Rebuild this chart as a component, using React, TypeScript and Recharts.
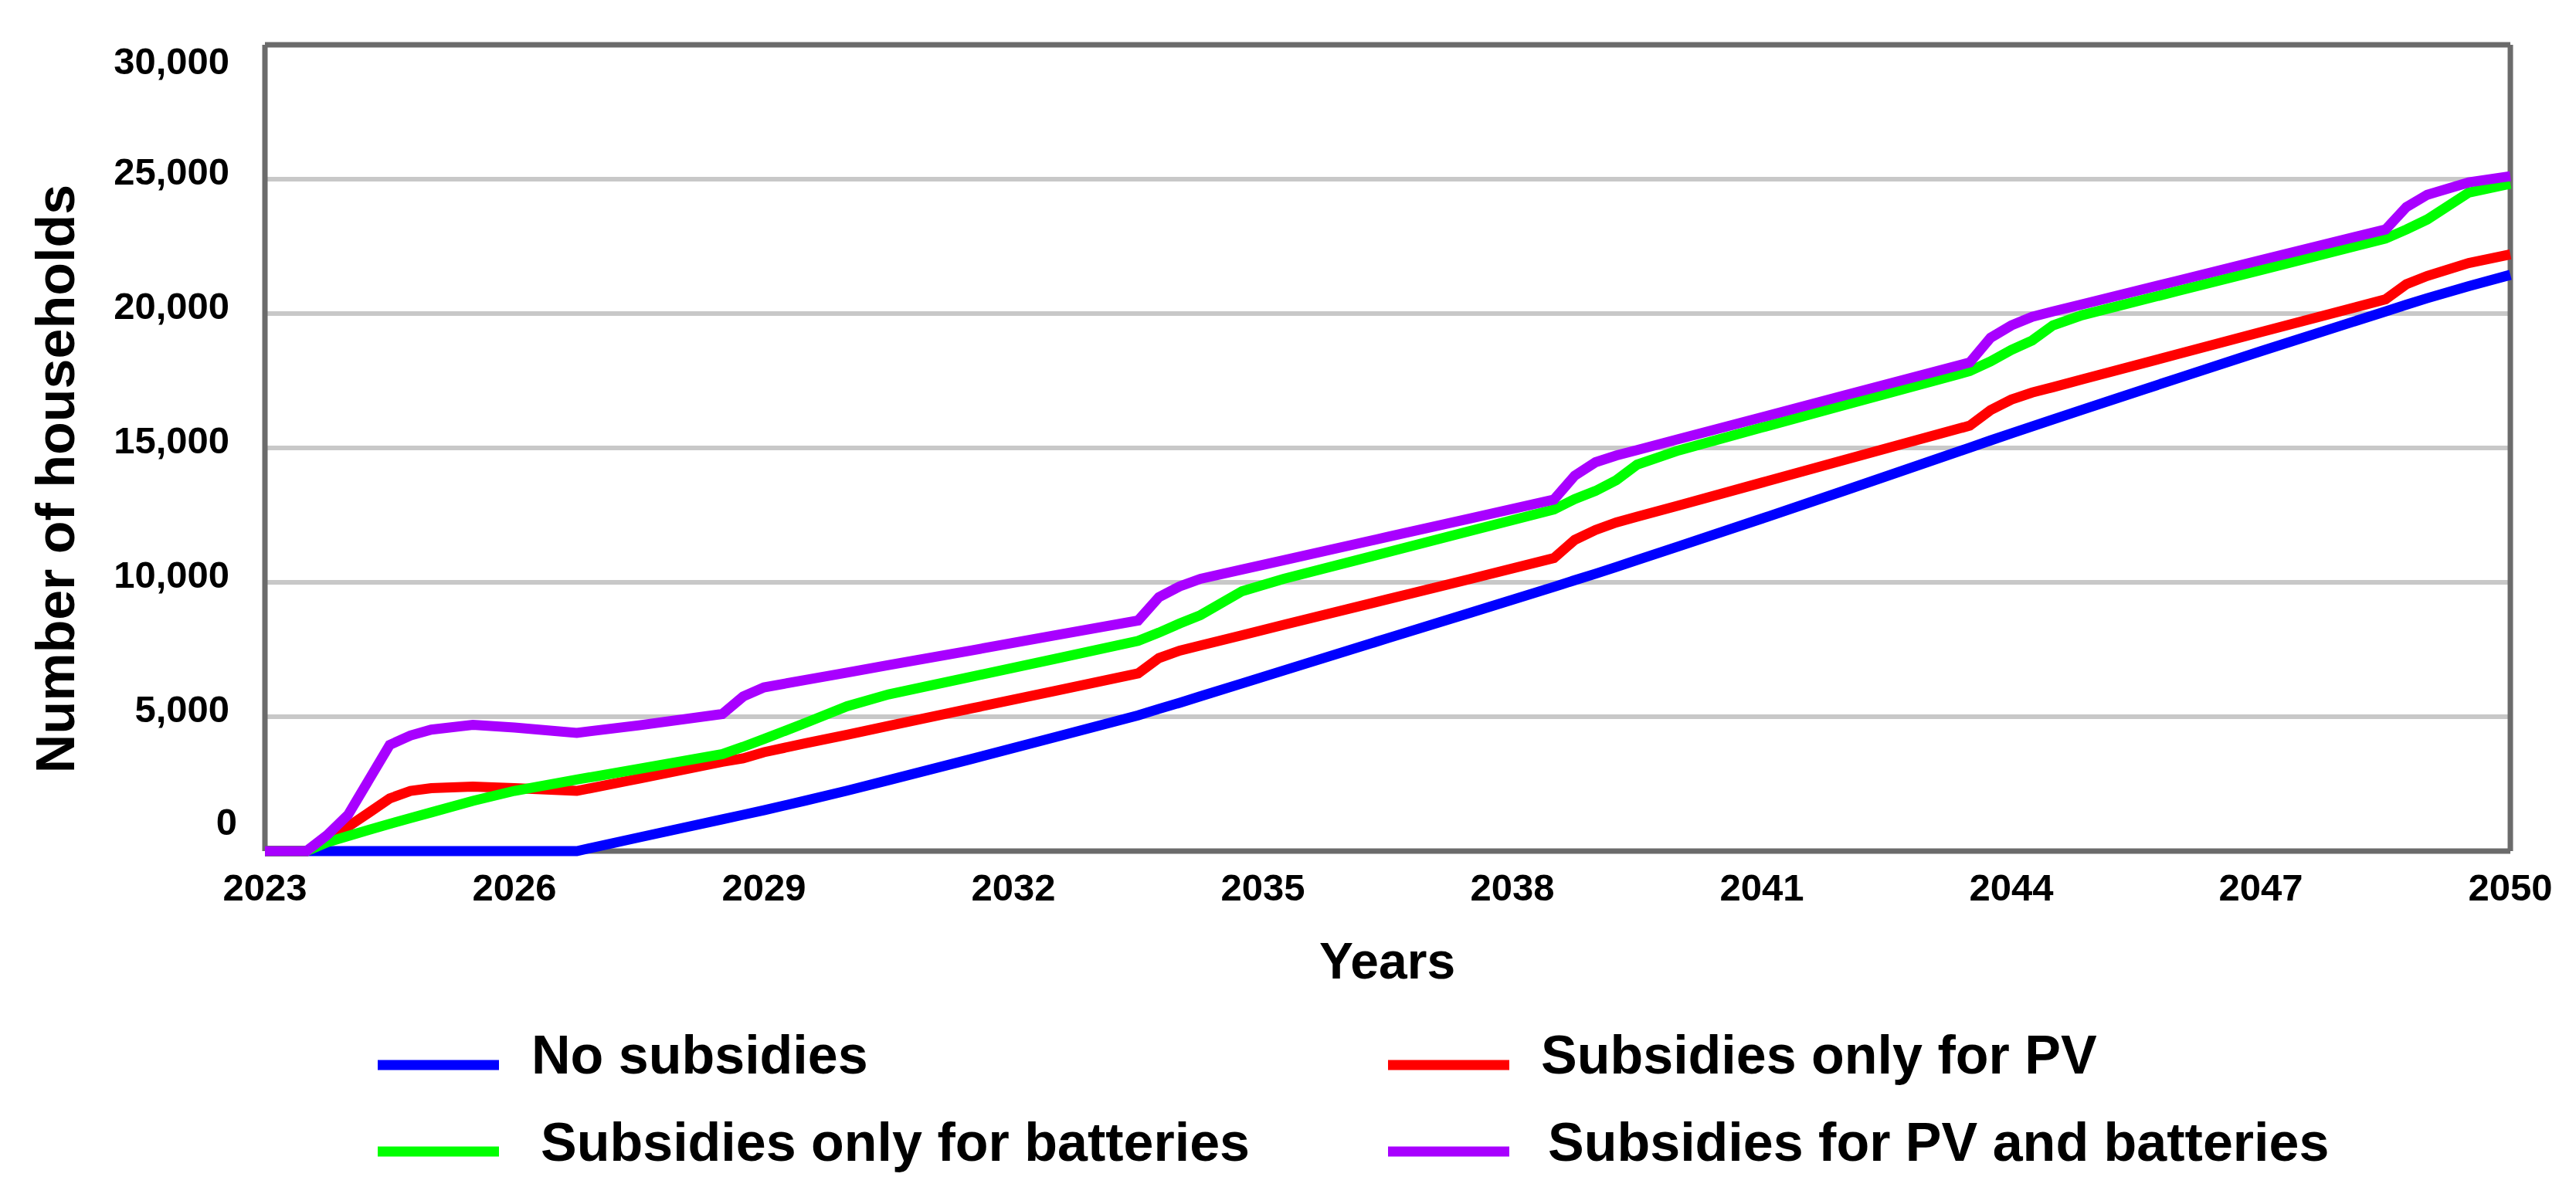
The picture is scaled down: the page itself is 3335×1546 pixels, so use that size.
import { LineChart, Line, XAxis, YAxis, CartesianGrid, Label } from "recharts";

const years = [
  2023, 2023.5, 2023.75, 2024, 2024.25, 2024.5, 2024.75, 2025, 2025.5, 2026,
  2026.75, 2027.5, 2028.5, 2028.75, 2029, 2029.5, 2030, 2030.5, 2031.5, 2032.5,
  2033.5, 2033.75, 2034, 2034.25, 2034.75, 2035.25, 2036.5, 2037.5, 2038.5, 2038.75,
  2039, 2039.25, 2039.5, 2040, 2041, 2042, 2043.5, 2043.75, 2044, 2044.25,
  2044.5, 2044.85, 2046, 2047, 2048.5, 2048.75, 2049, 2049.5, 2050,
];

const noSubsidies = [
  0, 0, 0, 0, 0, 0, 0, 0, 0, 0,
  0, 510, 1180, 1350, 1520, 1880, 2250, 2640, 3430, 4240,
  5050, 5290, 5520, 5760, 6240, 6720, 7920, 8870, 9830, 10080,
  10320, 10570, 10830, 11340, 12370, 13420, 15010, 15280, 15540, 15800,
  16060, 16420, 17590, 18600, 20080, 20330, 20570, 21020, 21440,
];

const pvOnly = [
  0, 0, 400, 910, 1430, 1960, 2240, 2340, 2400, 2340,
  2240, 2700, 3320, 3450, 3680, 4010, 4330, 4660, 5310, 5960,
  6610, 7180, 7460, 7650, 8030, 8420, 9370, 10130, 10900, 11580,
  11950, 12230, 12440, 12860, 13710, 14560, 15830, 16410, 16800, 17060,
  17260, 17550, 18490, 19310, 20530, 21090, 21400, 21880, 22200,
];

const batteriesOnly = [
  0, 0, 330, 560, 790, 1010, 1230, 1440, 1870, 2240,
  2660, 3060, 3610, 3880, 4170, 4770, 5390, 5830, 6490, 7150,
  7820, 8130, 8470, 8780, 9670, 10130, 11120, 11920, 12710, 13100,
  13400, 13800, 14380, 14910, 15760, 16600, 17860, 18220, 18650, 19000,
  19560, 19940, 20840, 21620, 22790, 23130, 23500, 24500, 24830,
];

const pvAndBatteries = [
  0, 0, 600, 1350, 2650, 3950, 4300, 4520, 4700, 4600,
  4400, 4680, 5100, 5750, 6090, 6370, 6640, 6920, 7470, 8030,
  8580, 9450, 9850, 10130, 10480, 10820, 11690, 12380, 13080, 13970,
  14470, 14720, 14920, 15330, 16140, 16960, 18180, 19100, 19560, 19880,
  20080, 20340, 21220, 21990, 23130, 23960, 24420, 24880, 25110,
];

const xTicks = [2023, 2026, 2029, 2032, 2035, 2038, 2041, 2044, 2047, 2050];
const yTicks = [0, 5000, 10000, 15000, 20000, 25000, 30000];
const innerGrid = [5000, 10000, 15000, 20000, 25000];

const series = [
  { key: "none", name: "No subsidies", color: "#0000ff" },
  { key: "pv", name: "Subsidies only for PV", color: "#ff0000" },
  { key: "bat", name: "Subsidies only for batteries", color: "#00ff00" },
  { key: "both", name: "Subsidies for PV and batteries", color: "#a800ff" },
];

const data = years.map((year, i) => ({
  year,
  none: noSubsidies[i],
  pv: pvOnly[i],
  bat: batteriesOnly[i],
  both: pvAndBatteries[i],
}));

const W = 3335;
const H = 1546;
const FONT = "'Liberation Sans', Arial, sans-serif";

// legend slots: [line start x, line centre y, text x, text baseline]
const legendSlots = [
  [489, 1379, 688, 1390],
  [1797, 1379, 1995, 1390],
  [489, 1491, 700, 1503],
  [1797, 1491, 2004, 1503],
];

function XTick(props: any) {
  const { x, y, payload } = props;
  return (
    <text x={x} y={y + 64} textAnchor="middle" fontFamily={FONT} fontWeight="bold" fontSize={49} fill="#000">
      {payload.value}
    </text>
  );
}

function YTick(props: any) {
  const { x, y, payload } = props;
  const v = payload.value;
  let dy = 7;
  if (v === 30000) dy = 38;
  if (v === 0) dy = -21;
  const dx = v === 0 ? -36 : -46;
  return (
    <text x={x + dx} y={y + dy} textAnchor="end" fontFamily={FONT} fontWeight="bold" fontSize={49} fill="#000">
      {v.toLocaleString("en-US")}
    </text>
  );
}

export default function App() {
  return (
    <div style={{ position: "absolute", left: 0, top: 0, width: W, height: H, background: "#fff" }}>
      <LineChart width={W} height={H} data={data} margin={{ top: 58, right: 85, bottom: 344, left: 43 }}>
        <CartesianGrid vertical={false} horizontalValues={innerGrid} stroke="#c8c8c8" strokeWidth={6} />
        <CartesianGrid
          horizontalValues={[0, 30000]}
          verticalValues={[2023, 2050]}
          stroke="#6b6b6b"
          strokeWidth={7}
        />
        <XAxis
          dataKey="year"
          type="number"
          domain={[2023, 2050]}
          ticks={xTicks}
          height={100}
          axisLine={false}
          tickLine={false}
          tickSize={0}
          tickMargin={0}
          tick={<XTick />}
          interval={0}
        >
          <Label
            content={() => (
              <text x={1796} y={1267} textAnchor="middle" fontFamily={FONT} fontWeight="bold" fontSize={66} fill="#000">
                Years
              </text>
            )}
          />
        </XAxis>
        <YAxis
          type="number"
          domain={[0, 30000]}
          ticks={yTicks}
          width={300}
          axisLine={false}
          tickLine={false}
          tickSize={0}
          tickMargin={0}
          tick={<YTick />}
          interval={0}
        >
          <Label
            content={() => (
              <text
                x={96}
                y={620}
                transform="rotate(-90 96 620)"
                textAnchor="middle"
                fontFamily={FONT}
                fontWeight="bold"
                fontSize={70}
                fill="#000"
              >
                Number of households
              </text>
            )}
          />
        </YAxis>
        {series.map((s) => (
          <Line
            key={s.key}
            type="linear"
            dataKey={s.key}
            name={s.name}
            stroke={s.color}
            strokeWidth={13}
            dot={false}
            activeDot={false}
            isAnimationActive={false}
          />
        ))}
      </LineChart>
      <svg width={W} height={H} style={{ position: "absolute", left: 0, top: 0, pointerEvents: "none" }}>
        {series.map((s, i) => {
          const [lx, ly, tx, ty] = legendSlots[i];
          return (
            <g key={s.key}>
              <line x1={lx} x2={lx + 157} y1={ly} y2={ly} stroke={s.color} strokeWidth={13} />
              <text x={tx} y={ty} fontFamily={FONT} fontWeight="bold" fontSize={70} fill="#000">
                {s.name}
              </text>
            </g>
          );
        })}
      </svg>
    </div>
  );
}
